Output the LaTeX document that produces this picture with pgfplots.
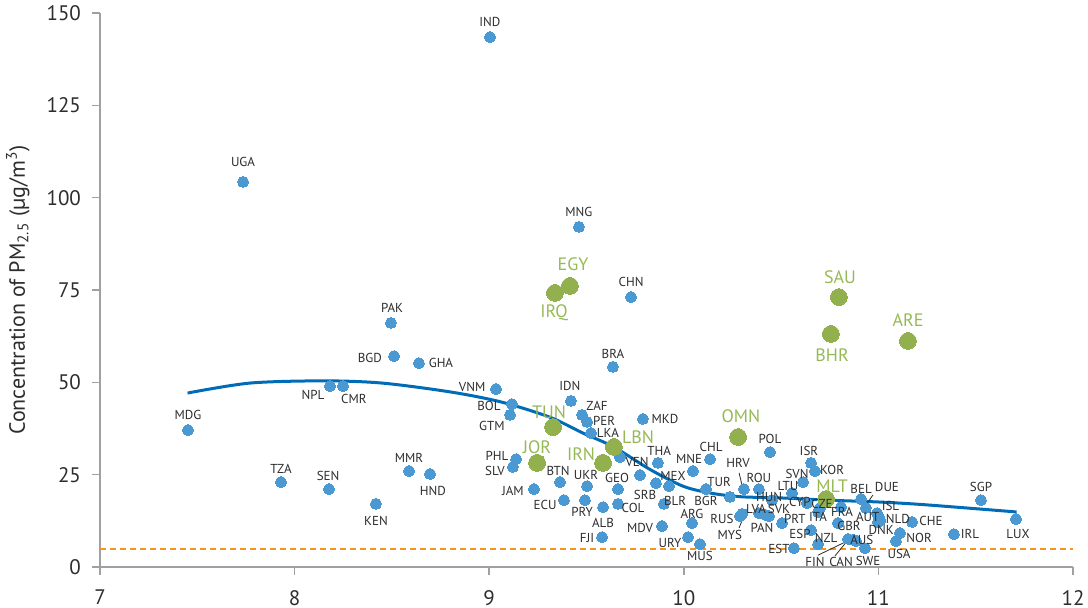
\documentclass[border=0pt]{standalone}
\usepackage{pgfplots}
\pgfplotsset{compat=1.18}
\usepackage{pgfplotstable}
\usepackage{fontspec}
\setmainfont{PT Sans}

\definecolor{dotblue}{RGB}{75,153,211}
\definecolor{curveblue}{RGB}{0,107,182}
\definecolor{dotgreen}{RGB}{146,177,78}
\definecolor{txtgreen}{RGB}{150,185,85}
\definecolor{guideorange}{RGB}{247,148,30}
\definecolor{axisgray}{RGB}{160,160,160}
\definecolor{txtgray}{RGB}{45,45,45}

% country dots: name, log GDP per capita, PM2.5
\pgfplotstableread{
name x y
IND 9.004 143.5
UGA 7.735 104.3
MNG 9.461 92.1
CHN 9.729 73.1
PAK 8.495 66.1
BGD 8.511 57.1
GHA 8.639 55.2
BRA 9.636 54.2
NPL 8.182 49.0
CMR 8.249 49.0
VNM 9.035 48.2
IDN 9.420 45.0
BOL 9.117 44.1
GTM 9.107 41.2
ZAF 9.477 41.2
PER 9.503 39.3
MKD 9.790 40.1
MDG 7.452 37.1
LKA 9.523 36.3
POL 10.443 31.1
XXX 9.672 29.8
PHL 9.138 29.2
CHL 10.135 29.2
THA 9.867 28.2
ISR 10.654 28.2
SLV 9.122 27.1
MNE 10.047 26.0
KOR 10.674 26.0
MMR 8.588 26.0
HND 8.696 25.2
VEN 9.775 24.9
TZA 7.930 23.0
BTN 9.364 23.0
SVN 10.613 23.0
SRB 9.857 22.7
UKR 9.503 21.9
MEX 9.924 21.9
SEN 8.177 21.1
JAM 9.230 21.1
GEO 9.662 21.1
TUR 10.114 21.1
HRV 10.309 21.1
ROU 10.386 21.1
LTU 10.556 20.0
BGR 10.237 19.0
BEL 10.911 18.4
SGP 11.527 18.1
ECU 9.384 18.1
PRY 9.492 18.1
HUN 10.453 18.1
CYP 10.633 17.3
COL 9.662 17.1
BLR 9.898 17.1
KEN 8.418 17.1
ALB 9.585 16.2
FRA 10.808 16.2
DUE 10.936 16.0
CZE 10.700 16.0
ITA 10.690 14.9
LVA 10.386 14.6
ISL 10.993 14.6
RUS 10.289 13.8
MYS 10.300 14.4
SVK 10.438 13.8
PAN 10.415 14.2
AUT 11.003 13.5
LUX 11.707 13.0
NLD 10.998 12.2
DNK 11.010 12.6
PRT 10.505 11.9
GBR 10.792 11.9
CHE 11.173 12.2
ARG 10.042 11.9
MDV 9.888 11.1
ESP 10.654 10.0
NOR 11.111 9.2
IRL 11.388 8.9
FJI 9.580 8.1
URY 10.022 8.1
FIN 10.844 7.6
CAN 10.885 7.0
AUS 10.870 7.4
USA 11.090 7.0
NZL 10.690 6.2
MUS 10.083 6.2
SWE 10.931 5.1
EST 10.566 5.1
}\bluepts

% label positions of the blue countries
\pgfplotstableread{
lab lx ly
IND 9.004 147.6
UGA 7.735 109.7
MNG 9.461 96.1
CHN 9.729 77.2
PAK 8.501 70.1
BGD 8.387 56.6
GHA 8.752 55.2
BRA 9.636 57.7
IDN 9.415 49.0
NPL 8.095 46.6
CMR 8.305 45.5
MDG 7.452 41.2
TZA 7.930 26.5
SEN 8.172 24.6
MMR 8.588 29.5
HND 8.711 20.6
KEN 8.418 12.5
VNM 8.912 48.7
BOL 8.999 43.6
GTM 9.014 38.2
ZAF 9.554 43.6
PER 9.590 39.5
LKA 9.610 36.3
MKD 9.903 40.1
PHL 9.040 30.1
SLV 9.030 26.0
THA 9.873 31.4
VEN 9.760 28.4
MNE 10.027 29.2
CHL 10.140 32.5
BTN 9.354 26.0
UKR 9.497 24.9
GEO 9.657 24.1
MEX 9.945 24.6
JAM 9.122 20.6
ECU 9.287 16.8
SRB 9.801 19.5
BLR 9.955 17.9
COL 9.739 16.0
PRY 9.477 14.9
ALB 9.585 11.9
FJI 9.503 7.9
MDV 9.775 10.6
ARG 10.042 14.4
URY 9.929 6.5
MUS 10.083 3.0
TUR 10.181 23.0
BGR 10.114 17.9
HRV 10.279 28.2
ROU 10.386 24.1
POL 10.443 34.7
ISR 10.643 31.4
KOR 10.762 26.3
SVN 10.582 25.2
LTU 10.535 21.9
HUN 10.438 19.0
CYP 10.597 17.6
CZE 10.710 17.1
BEL 10.911 21.1
DUE 11.044 21.7
LVA 10.371 15.8
SVK 10.489 15.6
FRA 10.813 14.9
ISL 11.062 16.4
AUT 10.945 13.5
ITA 10.690 13.5
NLD 11.100 13.0
RUS 10.196 13.0
PRT 10.571 13.0
GBR 10.849 11.1
DNK 11.015 10.1
PAN 10.402 10.6
MYS 10.237 8.7
ESP 10.597 8.9
NZL 10.731 7.9
AUS 10.915 7.3
EST 10.489 4.9
USA 11.106 3.5
FIN 10.674 1.4
CAN 10.808 1.4
SWE 10.947 1.6
CHE 11.270 12.5
NOR 11.209 7.9
SGP 11.527 21.7
IRL 11.471 8.9
LUX 11.717 8.9
}\bluelabs

% MENA countries: dot and label position
\pgfplotstableread{
lab x y lx ly
EGY 9.415 76.1 9.431 82.0
IRQ 9.338 74.2 9.333 68.8
TUN 9.328 37.9 9.307 42.0
JOR 9.246 28.2 9.246 32.5
IRN 9.585 28.2 9.472 30.6
LBN 9.641 32.5 9.765 35.2
OMN 10.279 35.2 10.294 40.9
MLT 10.731 18.4 10.762 21.9
SAU 10.797 73.1 10.803 78.5
BHR 10.756 63.1 10.762 57.4
ARE 11.152 61.2 11.152 66.9
}\greenpts

\begin{document}
\begin{tikzpicture}
\path[use as bounding box] (-50pt,-20.5pt) rectangle (494pt,283.5pt);
\begin{axis}[
    at={(0,0)}, anchor=south west,
    x=97.3pt, y=1.8465pt,
    xmin=7, xmax=12,
    ymin=0, ymax=150,
    axis lines*=left,
    axis line style={axisgray, line width=0.8pt},
    xtick={7,8,...,12},
    ytick={0,25,...,150},
    tick align=outside,
    major tick length=4pt,
    tick style={axisgray, line width=0.8pt},
    tick label style={font=\fontsize{10.5}{12}\selectfont, text=txtgray},
    /pgf/number format/assume math mode=true,
    xticklabel style={yshift=-4pt},
    yticklabel style={xshift=-2pt},
    ylabel={Concentration of PM\textsubscript{2.5} (µg/m\textsuperscript{3})},
    every axis y label/.style={at={([xshift=-41pt]axis description cs:0,0.5)},
        rotate=90, anchor=center, font=\fontsize{11}{13}\selectfont, text=txtgray},
    clip=false,
]

% WHO guideline
\addplot[guideorange, line width=1pt, dash pattern=on 3pt off 2pt] coordinates {(7,5) (12,5)};

% fitted curve
\addplot[curveblue, line width=1.5pt, smooth] coordinates {
(7.45,47.1) (7.77,49.8) (8.15,50.4) (8.45,49.8) (8.80,47.4) (9.06,44.7)
(9.31,40.6) (9.48,36.3) (9.64,32.5) (9.83,26.3) (10.0,21.8) (10.15,19.9)
(10.3,19.0) (10.5,18.7) (10.74,18.1) (11.0,17.6) (11.2,17.0) (11.4,16.2) (11.71,14.9)
};

\addplot[dotblue, only marks, mark=*, mark size=2.75pt,
    mark options={draw=dotblue, fill=dotblue, line width=0pt}]
    table[x=x, y=y] {\bluepts};
\addplot[dotgreen, only marks, mark=*, mark size=4.2pt,
    mark options={draw=dotgreen, fill=dotgreen, line width=0pt}]
    table[x=x, y=y] {\greenpts};

% labels
\addplot[draw=none, nodes near coords, point meta=explicit symbolic,
    every node near coord/.append style={anchor=center, inner sep=0pt,
        font=\fontsize{6.5}{7.5}\selectfont, text=txtgray}]
    table[x=lx, y=ly, meta=lab] {\bluelabs};
\addplot[draw=none, nodes near coords, point meta=explicit symbolic,
    every node near coord/.append style={anchor=center, inner sep=0pt,
        font=\fontsize{9}{11}\selectfont, text=txtgreen}]
    table[x=lx, y=ly, meta=lab] {\greenpts};

% leader lines
\draw[txtgray, line width=0.4pt] (axis cs:10.284,25.5) -- (axis cs:10.299,22.2);
\draw[txtgray, line width=0.4pt] (axis cs:10.309,13.8) -- (axis cs:10.284,10.6);
\draw[txtgray, line width=0.4pt] (axis cs:10.972,19.5) -- (axis cs:10.936,16.8);
\draw[txtgray, line width=0.4pt] (axis cs:10.690,3.2) -- (axis cs:10.839,7.0);
\draw[txtgray, line width=0.4pt] (axis cs:10.777,3.0) -- (axis cs:10.839,7.0);
\end{axis}
\end{tikzpicture}
\end{document}
